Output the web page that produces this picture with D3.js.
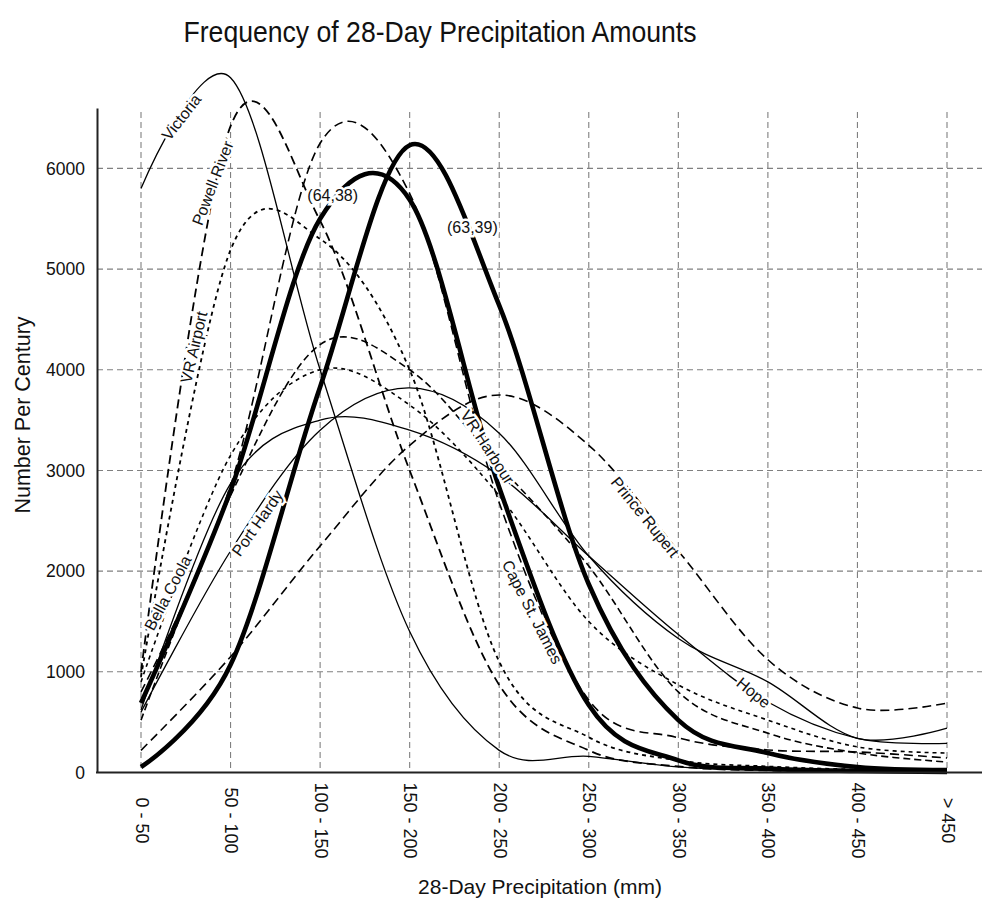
<!DOCTYPE html>
<html>
<head>
<meta charset="utf-8">
<title>Frequency of 28-Day Precipitation Amounts</title>
<script src="https://cdn.jsdelivr.net/npm/d3@7"></script>
<style>
  html, body { margin: 0; padding: 0; background: #fff; }
  svg { display: block; font-family: Arial, Helvetica, "Liberation Sans", sans-serif; }
</style>
</head>
<body>
<div id="chart"></div>
<script>
// categories on the x axis (mm per 28 days)
const categories = ["0 - 50", "50 - 100", "100 - 150", "150 - 200", "200 - 250",
                    "250 - 300", "300 - 350", "350 - 400", "400 - 450", "> 450"];
const yTicks = [0, 1000, 2000, 3000, 4000, 5000, 6000];

// number per century, one value per category
const victoria     = [5800, 6900, 4000, 1400, 220, 160, 55, 20, 10, 5];
const powellRiver  = [1000, 6420, 5480, 3000, 870, 220, 60, 20, 10, 5];
const vrAirport    = [950, 5190, 5300, 4000, 1100, 350, 120, 60, 30, 20];
const bellaCoola   = [900, 3150, 4000, 3650, 2750, 1500, 870, 520, 254, 194];
const capeStJames  = [800, 2850, 6250, 5750, 2680, 720, 345, 224, 204, 144];
const vrHarbour    = [520, 2750, 4250, 4000, 3050, 2050, 800, 390, 194, 104];
const portHardy    = [600, 2200, 3400, 3820, 3370, 2150, 1330, 900, 340, 440];
const hope         = [620, 2870, 3500, 3400, 2950, 2150, 1370, 700, 340, 290];
const princeRupert = [220, 1150, 2250, 3250, 3750, 3250, 2200, 1120, 640, 690];
const fit6438      = [690, 2800, 5500, 5690, 2830, 670, 120, 40, 15, 5];
const fit6339      = [55, 1070, 3830, 6230, 4640, 1870, 520, 194, 55, 25];

const series = [
  {name: "Victoria", values: victoria},
  {name: "Powell River", values: powellRiver},
  {name: "VR Airport", values: vrAirport},
  {name: "Bella Coola", values: bellaCoola},
  {name: "Cape St. James", values: capeStJames},
  {name: "VR Harbour", values: vrHarbour},
  {name: "Port Hardy", values: portHardy},
  {name: "Hope", values: hope},
  {name: "Prince Rupert", values: princeRupert},
  {name: "(64,38)", values: fit6438},
  {name: "(63,39)", values: fit6339}
];

// line look per series
const styles = {
  "Victoria":       {w: 1.3, dash: null},
  "Powell River":   {w: 1.8, dash: "9,5"},
  "VR Airport":     {w: 1.8, dash: "4,4"},
  "Bella Coola":    {w: 1.6, dash: "4,4"},
  "Cape St. James": {w: 1.6, dash: "9,5"},
  "VR Harbour":     {w: 1.6, dash: "7,4"},
  "Port Hardy":     {w: 1.3, dash: null},
  "Hope":           {w: 1.3, dash: null},
  "Prince Rupert":  {w: 1.6, dash: "9,5"},
  "(64,38)":        {w: 4.6, dash: null},
  "(63,39)":        {w: 4.6, dash: null}
};

// in-line labels: position as (fractional category index, value), angle in degrees
const labelPos = [
  {text: "Victoria", i: 0.45, v: 6510, a: -52},
  {text: "Powell River", i: 0.80, v: 5854, a: -69},
  {text: "VR Airport", i: 0.59, v: 4225, a: -77},
  {text: "Bella Coola", i: 0.30, v: 1783, a: -62},
  {text: "Port Hardy", i: 1.30, v: 2478, a: -55},
  {text: "VR Harbour", i: 3.87, v: 3232, a: 57},
  {text: "Cape St. James", i: 4.37, v: 1594, a: 63},
  {text: "Prince Rupert", i: 5.63, v: 2537, a: 51},
  {text: "Hope", i: 6.84, v: 792, a: 39},
  {text: "(64,38)", i: 2.14, v: 5735, a: 0},
  {text: "(63,39)", i: 3.70, v: 5418, a: 0}
];

const width = 982, height = 899;
const axisLeftX = 97, plotRight = 982;

const x = d3.scalePoint(categories, [141, 947]);
const xi = d3.scaleLinear([0, categories.length - 1], [141, 947]);
const y = d3.scaleLinear([0, 6600], [772.5, 108]);

const svg = d3.select("#chart").append("svg")
    .attr("width", width)
    .attr("height", height)
    .attr("viewBox", [0, 0, width, height]);

svg.append("rect").attr("width", width).attr("height", height).attr("fill", "#fff");

// grid
svg.append("g")
    .selectAll("line")
    .data(yTicks.filter(d => d > 0))
    .join("line")
    .attr("x1", axisLeftX).attr("x2", plotRight)
    .attr("y1", d => y(d)).attr("y2", d => y(d))
    .attr("stroke", "#808080").attr("stroke-width", 1.1)
    .attr("stroke-dasharray", "6,4");

svg.append("g")
    .selectAll("line")
    .data(categories)
    .join("line")
    .attr("x1", d => x(d)).attr("x2", d => x(d))
    .attr("y1", 112).attr("y2", y(0))
    .attr("stroke", "#808080").attr("stroke-width", 1.1)
    .attr("stroke-dasharray", "6,4");

// curves
const line = d3.line()
    .x((d, i) => x(categories[i]))
    .y(d => y(d))
    .curve(d3.curveCardinal.tension(0));

svg.append("g")
    .attr("fill", "none")
    .selectAll("path")
    .data(series)
    .join("path")
    .attr("d", d => line(d.values))
    .attr("stroke", "#000")
    .attr("stroke-width", d => styles[d.name].w)
    .attr("stroke-dasharray", d => styles[d.name].dash)
    .attr("stroke-linecap", "butt");

// in-line labels with white halo to break the lines
svg.append("g")
    .selectAll("text")
    .data(labelPos)
    .join("text")
    .attr("transform", d => `translate(${xi(d.i)},${y(d.v)}) rotate(${d.a})`)
    .attr("text-anchor", "middle")
    .attr("dy", "0.35em")
    .attr("font-size", 16)
    .attr("fill", "#111")
    .attr("stroke", "#fff")
    .attr("stroke-width", 5)
    .attr("paint-order", "stroke")
    .text(d => d.text);

// y axis
svg.append("g")
    .attr("transform", `translate(${axisLeftX},0)`)
    .call(d3.axisLeft(y).tickValues(yTicks).tickFormat(d3.format("d"))
        .tickSize(0).tickSizeOuter(0).tickPadding(12))
    .call(g => g.select(".domain").attr("stroke", "#222").attr("stroke-width", 2))
    .call(g => g.selectAll("text").attr("font-size", 17.5).attr("fill", "#111")
        .attr("font-family", null));

// x axis
svg.append("g")
    .attr("transform", `translate(0,${y(0)})`)
    .call(d3.axisBottom(x).tickSize(0).tickSizeOuter(0))
    .call(g => g.select(".domain").remove())
    .call(g => g.selectAll("text")
        .attr("font-family", null)
        .attr("font-size", 18)
        .attr("fill", "#111")
        .attr("y", 0).attr("dy", null)
        .attr("text-anchor", "middle")
        .attr("dominant-baseline", "central")
        .attr("transform", "translate(0,48) rotate(90)"));

svg.append("line")
    .attr("x1", axisLeftX - 1).attr("x2", plotRight)
    .attr("y1", y(0)).attr("y2", y(0))
    .attr("stroke", "#222").attr("stroke-width", 2);

// titles
svg.append("text")
    .attr("x", 440).attr("y", 42)
    .attr("text-anchor", "middle")
    .attr("font-size", 30)
    .attr("textLength", 513)
    .attr("lengthAdjust", "spacingAndGlyphs")
    .attr("fill", "#111")
    .text("Frequency of 28-Day Precipitation Amounts");

svg.append("text")
    .attr("x", 540).attr("y", 894)
    .attr("text-anchor", "middle")
    .attr("font-size", 21)
    .attr("fill", "#111")
    .text("28-Day Precipitation (mm)");

svg.append("text")
    .attr("transform", "translate(30,415) rotate(-90)")
    .attr("text-anchor", "middle")
    .attr("font-size", 21.5)
    .attr("fill", "#111")
    .text("Number Per Century");
</script>
</body>
</html>
